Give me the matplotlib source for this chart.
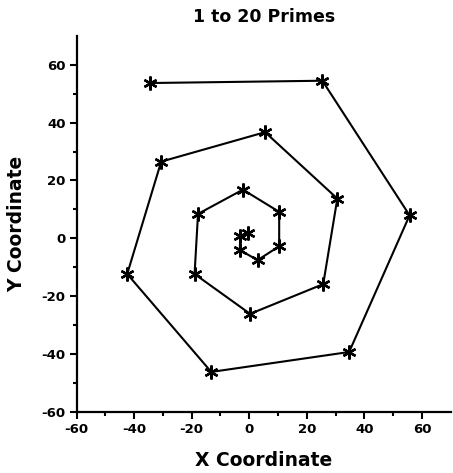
import numpy as np
import matplotlib
matplotlib.use('Agg')
from matplotlib import pyplot as plt

plt.rcParams['font.family'] = ['DejaVu Sans']
plt.rcParams['font.weight'] = 'bold'
plt.rcParams['axes.unicode_minus'] = False

# points of the spiral, inner to outer
x_vals = [-0.6, -3.1, -3.3, 2.9, 10.4, 10.4, -2.2, -17.8, -19.0, 0.3,
          25.7, 30.6, 5.5, -30.6, -42.4, -13.2, 34.7, 55.7, 25.4, -34.6]
y_vals = [1.8, 0.8, -4.1, -7.6, -2.8, 9.1, 16.8, 8.4, -12.4, -26.2,
          -15.9, 13.7, 36.7, 26.5, -12.4, -46.3, -39.4, 7.9, 54.5, 53.7]
ticks = [-60, -40, -20, 0, 20, 40, 60]

fig = plt.figure(figsize=(4.53, 4.73), dpi=100)
ax = fig.add_axes([0.169, 0.13, 0.826, 0.794])

ax.plot(x_vals, y_vals, color='black', lw=1.5,
        marker=(6, 2, 0), markersize=10, markeredgewidth=1.7)

ax.set_xlim(-60, 70)
ax.set_ylim(-60, 70)
ax.set_xticks(ticks)
ax.set_yticks(ticks)
ax.set_xticks(np.arange(-50, 70, 20), minor=True)
ax.set_yticks(np.arange(-50, 70, 20), minor=True)
for s in ['top', 'right']:
    ax.spines[s].set_visible(False)
for s in ['left', 'bottom']:
    ax.spines[s].set_linewidth(1.6)
ax.tick_params(which='major', direction='out', length=5, width=1.5, labelsize=9.5, pad=3)
ax.tick_params(which='minor', direction='out', length=3, width=1.5)

ax.set_title('1 to 20 Primes', fontsize=12.5, fontweight='bold', pad=10)
ax.set_xlabel('X Coordinate', fontsize=13.5, fontweight='bold', labelpad=11)
ax.set_ylabel('Y Coordinate', fontsize=13.5, fontweight='bold', labelpad=11)

plt.savefig('out.png', dpi=100)
